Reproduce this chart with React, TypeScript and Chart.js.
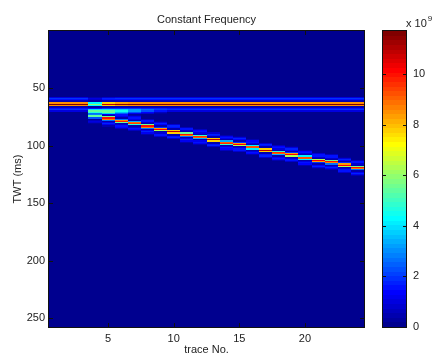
import React, { useEffect, useRef } from 'react';
import { Chart, registerables } from 'chart.js';

Chart.register(...registerables);

// ---------- data ----------
const TITLE = 'Constant Frequency';
const X_LABEL = 'trace No.';
const Y_LABEL = 'TWT (ms)';
const traceNo = [1, 2, 3, 4, 5, 6, 7, 8, 9, 10, 11, 12, 13, 14, 15, 16, 17, 18, 19, 20, 21, 22, 23, 24];
const xTicks = [5, 10, 15, 20];
const yTicks = [50, 100, 150, 200, 250];
const colorbarTicks = [0, 2, 4, 6, 8, 10];
const timeFirst = 1; // ms, first sample
const timeLast = 257; // ms, last sample
const colorMax = 11.7; // x 10^9

// flat reflector
const flatTime = 64;
const flatAmp = [11.7, 11.7, 11.7, 6.0, 10.8, 11.5, 11.7, 11.7, 11.7, 11.7, 11.7, 11.7, 11.7, 11.7, 11.7, 11.7, 11.7, 11.7, 11.7, 11.7, 11.7, 11.7, 11.7, 11.7];
// dipping reflector
const dipTime = [0, 0, 0, 74.5, 76.3, 78.7, 80.6, 83.3, 85.8, 88, 90.3, 92.4, 95, 97.6, 98.8, 101.5, 104, 106.4, 107.8, 110.5, 113.2, 114.3, 116.8, 119.3];
const dipAmp = [0, 0, 0, 6.2, 10.8, 10.6, 10.6, 10.8, 10.8, 10.8, 10.8, 10.8, 10.8, 10.8, 10.8, 10.8, 10.8, 10.8, 10.8, 10.8, 10.8, 10.8, 10.8, 10.8];
// tuning blob between the two reflectors
const tuneTime = 70.5;
const tuneAmp = [0, 0, 0, 4.4, 4.2, 3.8, 2.4, 1.4, 0.6, 0, 0, 0, 0, 0, 0, 0, 0, 0, 0, 0, 0, 0, 0, 0];
// wavelet energy profile (relative), by sample offset
const waveletOffsets = [-7, -6, -5, -4, -3, -2, -1, 0, 1, 2, 3, 4, 5, 6, 7];
const waveletShape = [0.02, 0.08, 0.16, 0.14, 0.05, 0.04, 0.72, 1, 0.72, 0.04, 0.05, 0.14, 0.16, 0.08, 0.02];
const tuneOffsets = [-3, -2, -1, 0, 1, 2, 3];
const tuneShape = [0, 0.2, 0.85, 1, 0.85, 0.2, 0];

// ---------- helpers ----------
const FONT_FAMILY = '"Liberation Sans", Arial, Helvetica, sans-serif';
const TEXT_COLOR = '#222';

function shapeAt(offsets: number[], shape: number[], x: number): number {
  if (x <= offsets[0] || x >= offsets[offsets.length - 1]) return 0;
  for (let i = 0; i < offsets.length - 1; i++) {
    if (x >= offsets[i] && x <= offsets[i + 1]) {
      const f = (x - offsets[i]) / (offsets[i + 1] - offsets[i]);
      return shape[i] * (1 - f) + shape[i + 1] * f;
    }
  }
  return 0;
}

// MATLAB jet(64)
function jet64(i: number): [number, number, number] {
  const u = (j: number) => (j < 0 || j > 46 ? 0 : j < 16 ? (j + 1) / 16 : j < 31 ? 1 : (47 - j) / 16);
  return [Math.round(u(i - 24) * 255), Math.round(u(i - 8) * 255), Math.round(u(i + 8) * 255)];
}
function colorIndex(v: number): number {
  return Math.max(0, Math.min(63, Math.floor((v / colorMax) * 64)));
}

function buildHeatmapImage(): HTMLCanvasElement {
  const nx = traceNo.length;
  const ny = timeLast - timeFirst + 1;
  const c = document.createElement('canvas');
  c.width = nx;
  c.height = ny;
  const cx = c.getContext('2d')!;
  const img = cx.createImageData(nx, ny);
  for (let k = 0; k < nx; k++) {
    for (let r = 0; r < ny; r++) {
      const t = timeFirst + r;
      let v = flatAmp[k] * shapeAt(waveletOffsets, waveletShape, t - flatTime);
      if (dipAmp[k] > 0) v += dipAmp[k] * shapeAt(waveletOffsets, waveletShape, t - dipTime[k]);
      if (tuneAmp[k] > 0) v += tuneAmp[k] * shapeAt(tuneOffsets, tuneShape, t - tuneTime);
      const [R, G, B] = jet64(colorIndex(v));
      const p = (r * nx + k) * 4;
      img.data[p] = R;
      img.data[p + 1] = G;
      img.data[p + 2] = B;
      img.data[p + 3] = 255;
    }
  }
  cx.putImageData(img, 0, 0);
  return c;
}

function buildColorbarImage(): HTMLCanvasElement {
  const c = document.createElement('canvas');
  c.width = 1;
  c.height = 64;
  const cx = c.getContext('2d')!;
  const img = cx.createImageData(1, 64);
  for (let i = 0; i < 64; i++) {
    const [R, G, B] = jet64(63 - i);
    img.data[i * 4] = R;
    img.data[i * 4 + 1] = G;
    img.data[i * 4 + 2] = B;
    img.data[i * 4 + 3] = 255;
  }
  cx.putImageData(img, 0, 0);
  return c;
}

const font = { family: FONT_FAMILY, size: 11 };
const titleFont = { family: FONT_FAMILY, size: 11, lineHeight: 1 };

export default function App() {
  const mainRef = useRef<HTMLCanvasElement>(null);
  const cbRef = useRef<HTMLCanvasElement>(null);

  useEffect(() => {
    const heat = buildHeatmapImage();
    const cbImg = buildColorbarImage();

    const heatmapPlugin = {
      id: 'heatmap',
      beforeDatasetsDraw(chart: any) {
        const { ctx, scales } = chart;
        const x = scales.x;
        const y = scales.y;
        const x0 = x.getPixelForValue(traceNo[0] - 0.5);
        const x1 = x.getPixelForValue(traceNo[traceNo.length - 1] + 0.5);
        const y0 = y.getPixelForValue(timeFirst - 0.5);
        const y1 = y.getPixelForValue(timeLast + 0.5);
        ctx.save();
        ctx.imageSmoothingEnabled = false;
        ctx.drawImage(heat, x0, y0, x1 - x0, y1 - y0);
        ctx.restore();
      },
      afterDatasetsDraw(chart: any) {
        const { ctx, chartArea: a, scales } = chart;
        ctx.save();
        ctx.strokeStyle = '#111';
        ctx.lineWidth = 1;
        ctx.beginPath();
        for (const v of xTicks) {
          const px = Math.round(scales.x.getPixelForValue(v)) + 0.5;
          ctx.moveTo(px, a.bottom);
          ctx.lineTo(px, a.bottom - 4);
          ctx.moveTo(px, a.top);
          ctx.lineTo(px, a.top + 4);
        }
        for (const v of yTicks) {
          const py = Math.round(scales.y.getPixelForValue(v)) + 0.5;
          ctx.moveTo(a.left, py);
          ctx.lineTo(a.left + 4, py);
          ctx.moveTo(a.right, py);
          ctx.lineTo(a.right - 4, py);
        }
        ctx.stroke();
        ctx.strokeRect(Math.round(a.left) - 0.5, Math.round(a.top) - 0.5, Math.round(a.right - a.left) + 1, Math.round(a.bottom - a.top) + 1);
        ctx.restore();
      },
      afterDraw(chart: any) {
        const { ctx, chartArea: a } = chart;
        ctx.save();
        ctx.font = `11px ${FONT_FAMILY}`;
        ctx.fillStyle = TEXT_COLOR;
        ctx.textAlign = 'center';
        ctx.textBaseline = 'alphabetic';
        ctx.fillText(TITLE, (a.left + a.right) / 2, 23);
        ctx.restore();
      },
    };

    const main = new Chart(mainRef.current!, {
      type: 'scatter',
      data: { datasets: [] },
      plugins: [heatmapPlugin],
      options: {
        animation: false,
        responsive: false,
        maintainAspectRatio: false,
        events: [],
        layout: { padding: { top: 31, right: 70, left: 0, bottom: 0 } },
        plugins: { legend: { display: false }, tooltip: { enabled: false }, title: { display: false } },
        scales: {
          x: {
            type: 'linear',
            min: traceNo[0] - 0.5,
            max: traceNo[traceNo.length - 1] + 0.5,
            afterBuildTicks: (s: any) => {
              s.ticks = xTicks.map((v) => ({ value: v }));
            },
            afterFit: (s: any) => {
              s.height = 28;
            },
            grid: { display: false, drawTicks: false },
            border: { display: false },
            ticks: { padding: 5, font, color: TEXT_COLOR, maxRotation: 0, autoSkip: false },
            title: { display: true, text: X_LABEL, font: titleFont, color: TEXT_COLOR, padding: { top: 0, bottom: 0 } },
          },
          y: {
            type: 'linear',
            reverse: true,
            min: timeFirst - 0.5,
            max: timeLast + 0.5,
            afterBuildTicks: (s: any) => {
              s.ticks = yTicks.map((v) => ({ value: v }));
            },
            afterFit: (s: any) => {
              s.width = 49;
            },
            grid: { display: false, drawTicks: false },
            border: { display: false },
            ticks: { padding: 4, font, color: TEXT_COLOR, autoSkip: false },
            title: { display: true, text: Y_LABEL, font: titleFont, color: TEXT_COLOR, padding: { top: 12, bottom: 0 } },
          },
        },
      } as any,
    });

    const colorbarPlugin = {
      id: 'colorbar',
      beforeDatasetsDraw(chart: any) {
        const { ctx, chartArea: a, scales } = chart;
        const yTop = scales.y.getPixelForValue(colorMax);
        const yBot = scales.y.getPixelForValue(0);
        ctx.save();
        ctx.imageSmoothingEnabled = false;
        ctx.drawImage(cbImg, a.left, yTop, a.right - a.left, yBot - yTop);
        ctx.strokeStyle = '#111';
        ctx.lineWidth = 1;
        ctx.strokeRect(Math.round(a.left) - 0.5, Math.round(a.top) - 0.5, Math.round(a.right - a.left) + 1, Math.round(a.bottom - a.top) + 1);
        ctx.beginPath();
        for (const v of colorbarTicks) {
          const py = Math.round(scales.y.getPixelForValue(v)) + 0.5;
          ctx.moveTo(a.left, py);
          ctx.lineTo(a.left + 3, py);
          ctx.moveTo(a.right, py);
          ctx.lineTo(a.right - 3, py);
        }
        ctx.stroke();
        ctx.restore();
      },
      afterDraw(chart: any) {
        const { ctx, chartArea: a } = chart;
        ctx.save();
        ctx.fillStyle = TEXT_COLOR;
        ctx.textAlign = 'left';
        ctx.textBaseline = 'alphabetic';
        ctx.font = `11px ${FONT_FAMILY}`;
        const base = 'x 10';
        const x0 = a.right;
        ctx.fillText(base, x0, 27);
        const w = ctx.measureText(base).width;
        ctx.font = `8px ${FONT_FAMILY}`;
        ctx.fillText('9', x0 + w + 1, 21);
        ctx.restore();
      },
    };

    const cb = new Chart(cbRef.current!, {
      type: 'scatter',
      data: { datasets: [] },
      plugins: [colorbarPlugin],
      options: {
        animation: false,
        responsive: false,
        maintainAspectRatio: false,
        events: [],
        layout: { padding: { left: 23, top: 31, bottom: 28, right: 0 } },
        plugins: { legend: { display: false }, tooltip: { enabled: false } },
        scales: {
          x: { type: 'linear', display: false, min: 0, max: 1 },
          y: {
            type: 'linear',
            position: 'right',
            min: 0,
            max: colorMax,
            afterBuildTicks: (s: any) => {
              s.ticks = colorbarTicks.map((v) => ({ value: v }));
            },
            afterFit: (s: any) => {
              s.width = 28;
            },
            grid: { display: false, drawTicks: false },
            border: { display: false },
            ticks: { padding: 7, font, color: TEXT_COLOR, autoSkip: false },
          },
        },
      } as any,
    });

    return () => {
      main.destroy();
      cb.destroy();
    };
  }, []);

  return (
    <div style={{ position: 'absolute', left: 0, top: 0, width: 434, height: 355, background: '#fff' }}>
      <canvas ref={mainRef} width={434} height={355} style={{ position: 'absolute', left: 0, top: 0 }} />
      <canvas ref={cbRef} width={74} height={355} style={{ position: 'absolute', left: 360, top: 0 }} />
    </div>
  );
}
